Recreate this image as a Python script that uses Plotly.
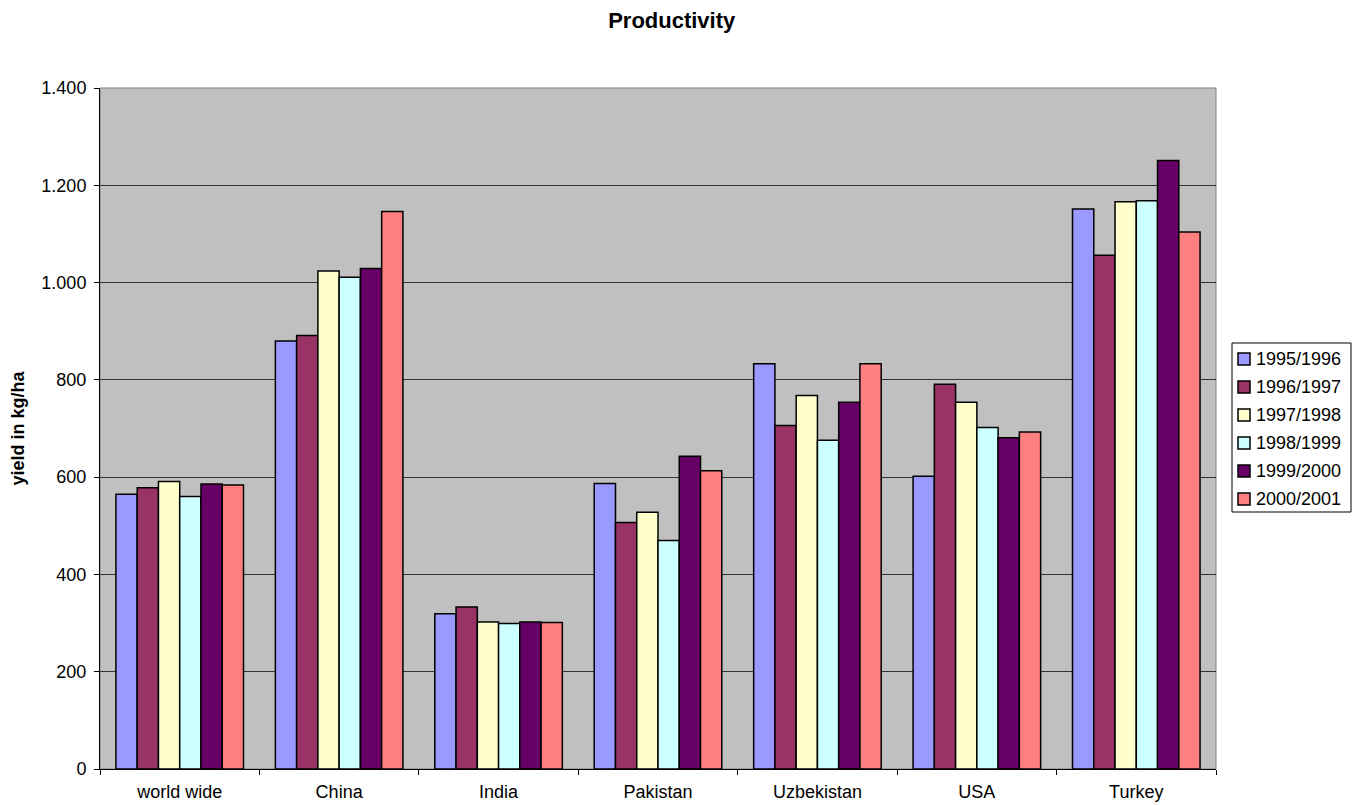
import plotly.graph_objects as go

countries = ["world wide", "China", "India", "Pakistan", "Uzbekistan", "USA", "Turkey"]
seasons = ["1995/1996", "1996/1997", "1997/1998", "1998/1999", "1999/2000", "2000/2001"]

y_1995 = [565, 880, 319, 587, 833, 602, 1151]
y_1996 = [578, 891, 333, 507, 706, 791, 1056]
y_1997 = [591, 1024, 302, 528, 768, 754, 1166]
y_1998 = [560, 1011, 299, 470, 676, 702, 1168]
y_1999 = [586, 1029, 302, 643, 754, 681, 1251]
y_2000 = [584, 1146, 301, 613, 833, 693, 1104]

series = [y_1995, y_1996, y_1997, y_1998, y_1999, y_2000]
colors = ["#9999FF", "#993366", "#FFFFCC", "#CCFFFF", "#660066", "#FF8080"]

W, H = 1357, 805
ML, MR, MT, MB = 100, 141, 88, 36
PW, PH = W - ML - MR, H - MT - MB


def px_x(px):
    return (px - ML) / PW


def px_y(py):
    return (H - MB - py) / PH


fig = go.Figure()
for name, vals, col in zip(seasons, series, colors):
    fig.add_trace(go.Bar(
        x=countries, y=vals, name=name,
        marker=dict(color=col, line=dict(color="black", width=1.5)),
    ))

FONT = "Liberation Sans, Arial, sans-serif"

fig.update_layout(
    width=W, height=H,
    margin=dict(l=ML, r=MR, t=MT, b=MB),
    paper_bgcolor="white", plot_bgcolor="#C0C0C0",
    font=dict(family=FONT, size=18, color="black"),
    title=dict(text="<b>Productivity</b>", x=0.495, xanchor="center", y=0.975, yanchor="middle",
               font=dict(size=22)),
    barmode="group", bargap=0.2, bargroupgap=0,
    separators=",.",
    showlegend=False,
    xaxis=dict(showline=True, linecolor="black", linewidth=1, ticks="outside",
               tickson="boundaries", ticklen=5, tickcolor="black", automargin=False,
               showgrid=False, tickfont=dict(size=18), ticklabelstandoff=6),
    yaxis=dict(range=[0, 1400], dtick=200, tickformat=",d", showline=True,
               linecolor="black", linewidth=1, ticks="outside", ticklen=5,
               tickcolor="black", showgrid=True, gridcolor="#333333", gridwidth=1,
               zeroline=False, tickfont=dict(size=18), ticklabelstandoff=4, automargin=False,
               title=dict(text="<b>yield in kg/ha</b>", font=dict(size=18), standoff=12)),
)

# plot area frame
fig.add_shape(type="rect", xref="paper", yref="paper", x0=0, y0=0, x1=1, y1=1,
              line=dict(color="#808080", width=1), layer="below")

# legend box with swatches
fig.add_shape(type="rect", xref="paper", yref="paper",
              x0=px_x(1232), x1=px_x(1351), y0=px_y(512), y1=px_y(343),
              line=dict(color="black", width=1), fillcolor="white")
row0, step = 359, 28
for i, (name, col) in enumerate(zip(seasons, colors)):
    cy = row0 + i * step
    fig.add_shape(type="rect", xref="paper", yref="paper",
                  x0=px_x(1238), x1=px_x(1250), y0=px_y(cy + 6), y1=px_y(cy - 6),
                  line=dict(color="black", width=1.5), fillcolor=col)
    fig.add_annotation(xref="paper", yref="paper", x=px_x(1254), y=px_y(cy),
                       text=name, showarrow=False, xanchor="left", yanchor="middle",
                       font=dict(size=18, family=FONT, color="black"))

fig.write_html("out.html")
